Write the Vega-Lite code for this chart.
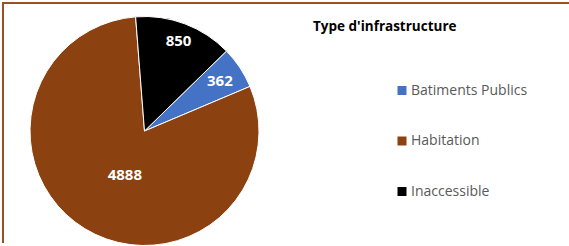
{
  "$schema": "https://vega.github.io/schema/vega-lite/v6.json",
  "width": 566,
  "height": 243,
  "autosize": {"type": "none"},
  "padding": {"left": 3, "top": 3, "right": 0, "bottom": 0},
  "background": "white",
  "view": {"stroke": "#9E4F22", "strokeWidth": 2, "strokeDash": [567, 811, 245, 100]},
  "data": {"values": [
    {"cat": "Batiments Publics", "value": 362},
    {"cat": "Habitation", "value": 4888},
    {"cat": "Inaccessible", "value": 850}
  ]},
  "encoding": {
    "theta": {"field": "value", "type": "quantitative", "stack": true, "scale": {"range": [0.798, 7.081]}},
    "order": {"field": "cat", "type": "ordinal"}
  },
  "layer": [
    {
      "mark": {"type": "arc", "x": 141.5, "y": 128, "outerRadius": 114.5, "stroke": "white", "strokeWidth": 1},
      "encoding": {
        "color": {
          "field": "cat", "type": "nominal",
          "scale": {"domain": ["Batiments Publics", "Habitation", "Inaccessible"], "range": ["#4472C4", "#8B4210", "#000000"]},
          "legend": {
            "orient": "none", "legendX": 310, "legendY": 17,
            "title": "Type d'infrastructure",
            "titleFont": "Open Sans", "titleFontSize": 13.5, "titleFontWeight": "bold", "titleColor": "#000000",
            "titlePadding": 50,
            "labelFont": "Open Sans", "labelFontSize": 14, "labelColor": "#595959",
            "symbolType": "square", "symbolSize": 81, "symbolOffset": 82, "labelOffset": 2,
            "rowPadding": 36.5, "symbolStrokeWidth": 0
          }
        }
      }
    },
    {
      "mark": {
        "type": "text", "x": 141.5, "y": 128,
        "radius": {"expr": "datum.cat === 'Habitation' ? 48 : (datum.cat === 'Inaccessible' ? 96.5 : 90.5)"},
        "thetaOffset": {"expr": "datum.cat === 'Habitation' ? -0.124 : 0"},
        "font": "Open Sans", "fontWeight": "bold", "fontSize": 15, "color": "white"
      },
      "encoding": {
        "text": {"field": "value", "type": "quantitative", "format": "d"},
        "detail": {"field": "cat", "type": "nominal"}
      }
    }
  ]
}
